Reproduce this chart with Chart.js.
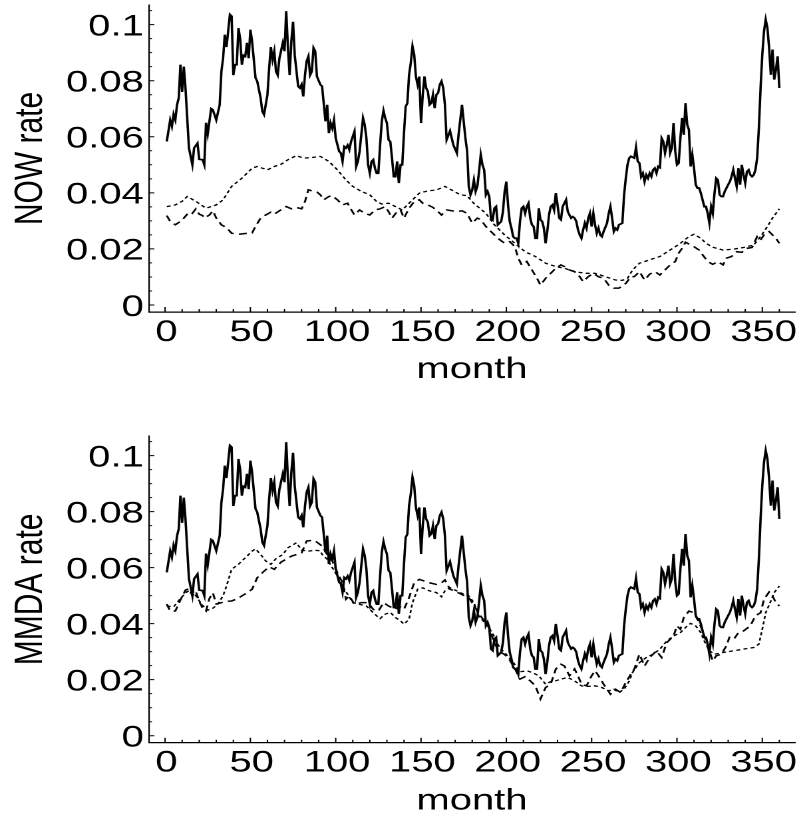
<!DOCTYPE html>
<html>
<head>
<meta charset="utf-8">
<title>NOW and MMDA rates</title>
<script src="https://cdn.jsdelivr.net/npm/chart.js@4.4.1/dist/chart.umd.min.js"></script>
<style>
  html, body { margin: 0; padding: 0; background: #fff; overflow: hidden; }
  /* the original figure is stretched sideways, so each panel is drawn narrow and scaled */
  .panel { width: 602px; transform: scaleX(1.3306); transform-origin: 0 0; }
</style>
</head>
<body>
<div class="panel" style="height:400px"><canvas id="nowChart"></canvas></div>
<div class="panel" style="height:419px"><canvas id="mmdaChart"></canvas></div>

<script>
// Axis ticks
const xTickValues = [0, 50, 100, 150, 200, 250, 300, 350];
const yTickValues = [0, 0.02, 0.04, 0.06, 0.08, 0.1];
const yTickLabels = ["0", "0.02", "0.04", "0.06", "0.08", "0.1"];

// Market rate (solid line, same in both panels)
const marketMonths = [1,3,4,5,6,7,8,9,10,11,12,14,16,17,19,20,22,23,24,25,27,28,30,32,33,34,35,36,38,39,40,41,42,43,44,45,46,47,48,49,50,51,53,54,56,57,58,60,61,62,63,64,65,66,67,69,70,71,72,73,74,75,76,78,79,80,81,82,83,84,85,86,87,88,89,91,92,94,95,96,97,98,99,100,102,103,104,105,106,107,108,109,111,112,113,114,116,117,118,119,120,121,122,123,124,125,126,127,128,129,130,131,132,133,134,135,136,137,138,139,140,141,142,143,144,145,146,147,148,149,150,151,152,153,154,155,156,157,158,159,160,161,162,163,164,165,167,168,169,171,172,174,175,176,177,178,179,180,181,182,183,184,185,186,187,188,189,190,191,192,193,194,195,196,197,198,199,200,201,202,203,204,205,206,207,208,209,210,211,212,213,214,215,216,217,218,219,220,221,222,223,224,225,226,227,228,229,230,231,232,233,234,235,236,237,238,239,240,241,242,243,244,245,246,247,248,249,250,251,252,253,254,255,256,257,259,260,261,262,263,264,265,266,268,269,270,271,272,273,275,276,277,278,279,280,281,282,283,284,285,286,287,288,289,290,291,292,293,294,295,296,297,298,299,300,301,302,303,304,305,306,307,308,309,310,311,312,313,314,315,316,317,318,319,320,321,322,323,324,325,326,327,328,329,330,331,332,333,334,335,336,337,338,339,340,341,342,343,344,345,346,347,348,349,350,351,352,353,354,355,356,357,358,359,360];
const marketRate = [0.0583,0.066,0.0637,0.068,0.066,0.0714,0.0738,0.0857,0.076,0.085,0.077,0.056,0.05,0.056,0.0577,0.052,0.0518,0.05,0.065,0.061,0.07,0.0696,0.066,0.0714,0.0833,0.088,0.0964,0.092,0.1036,0.103,0.082,0.0857,0.0857,0.0988,0.095,0.0857,0.089,0.0887,0.0935,0.088,0.0982,0.094,0.081,0.0798,0.0738,0.069,0.0679,0.075,0.0845,0.092,0.0875,0.0905,0.0833,0.082,0.088,0.0935,0.0905,0.1048,0.0917,0.082,0.094,0.101,0.089,0.078,0.0774,0.0786,0.0744,0.082,0.087,0.0887,0.082,0.0833,0.0917,0.0905,0.0815,0.0786,0.078,0.0655,0.0714,0.0613,0.0649,0.063,0.066,0.0595,0.0548,0.0542,0.0512,0.0565,0.056,0.057,0.0554,0.0583,0.0619,0.0494,0.0512,0.0548,0.0667,0.0643,0.0595,0.05,0.047,0.0512,0.0518,0.0488,0.047,0.047,0.057,0.0655,0.0693,0.0667,0.0649,0.0589,0.0583,0.0524,0.0458,0.0458,0.0512,0.0435,0.05,0.05,0.0613,0.0708,0.072,0.0821,0.0863,0.0923,0.0893,0.0815,0.0786,0.0815,0.0649,0.075,0.0815,0.0774,0.0762,0.0714,0.072,0.075,0.0702,0.075,0.0756,0.0786,0.0798,0.0774,0.0714,0.0589,0.0621,0.0595,0.057,0.0542,0.0607,0.0714,0.0655,0.0595,0.055,0.0423,0.0393,0.041,0.0446,0.0405,0.0423,0.0476,0.0536,0.05,0.0482,0.0393,0.0405,0.0387,0.031,0.0304,0.0345,0.0351,0.0286,0.0292,0.0298,0.0333,0.0405,0.044,0.0357,0.0298,0.0274,0.0244,0.0238,0.0238,0.022,0.0298,0.0345,0.0351,0.0327,0.0351,0.0363,0.031,0.0286,0.028,0.0238,0.0238,0.0345,0.0304,0.0298,0.0274,0.022,0.0262,0.0321,0.0351,0.0357,0.0339,0.0399,0.0357,0.031,0.0304,0.0351,0.0363,0.0375,0.0333,0.0321,0.031,0.0315,0.031,0.0298,0.0268,0.025,0.0238,0.0268,0.0292,0.0274,0.031,0.0327,0.028,0.0327,0.0286,0.0256,0.0274,0.025,0.0244,0.0262,0.0292,0.0327,0.0351,0.031,0.0262,0.0274,0.0268,0.0286,0.0292,0.0393,0.0452,0.05,0.0524,0.053,0.0524,0.0562,0.0512,0.0506,0.0458,0.047,0.044,0.0464,0.0452,0.047,0.0458,0.0482,0.0488,0.047,0.0494,0.049,0.0595,0.0583,0.0542,0.057,0.0607,0.0542,0.056,0.0649,0.0548,0.05,0.0506,0.0595,0.0667,0.0607,0.072,0.0643,0.0625,0.0494,0.0536,0.0488,0.0429,0.0417,0.0417,0.0399,0.0375,0.0351,0.0351,0.0327,0.0292,0.0351,0.0327,0.0399,0.0452,0.0446,0.0393,0.0387,0.0387,0.0405,0.0417,0.0429,0.044,0.0458,0.0482,0.0452,0.0423,0.0488,0.0429,0.05,0.0464,0.0435,0.0476,0.0482,0.0464,0.0458,0.0464,0.0482,0.0524,0.0631,0.0774,0.0893,0.0976,0.1018,0.0988,0.0917,0.0821,0.0911,0.0804,0.0839,0.0887,0.0774,0.0815];

// NOW panel: short-dash series
const nowShortMonths = [1,6,10,13,18,24,30,34,39,45,51,54,57,60,64,68,72,77,81,86,91,96,101,106,110,115,120,124,127,131,135,139,142,146,149,154,159,164,168,173,177,181,188,193,199,205,211,217,223,229,234,240,246,252,258,264,268,271,274,278,284,290,296,302,307,310,314,317,321,327,333,339,345,349,353,356,360];
const nowShort = [0.0351,0.0357,0.037,0.0387,0.037,0.0345,0.0357,0.0375,0.0423,0.0452,0.0488,0.0494,0.0488,0.0482,0.0494,0.0502,0.0518,0.0533,0.0524,0.0526,0.053,0.0512,0.0482,0.0446,0.0423,0.0405,0.0393,0.0369,0.036,0.0363,0.0351,0.0339,0.0357,0.0381,0.0399,0.0407,0.041,0.0423,0.041,0.0393,0.039,0.0362,0.0327,0.0286,0.025,0.022,0.019,0.0173,0.0149,0.0137,0.0131,0.0119,0.0113,0.0113,0.0101,0.0089,0.0088,0.0095,0.0125,0.0149,0.0161,0.0173,0.0196,0.022,0.0244,0.0252,0.0238,0.022,0.0206,0.0196,0.0199,0.0205,0.0214,0.0244,0.028,0.031,0.0343];

// NOW panel: long-dash series
const nowLongMonths = [1,3,6,9,11,14,16,18,20,22,23,26,28,30,33,36,39,43,47,51,53,56,59,62,64,67,71,74,77,80,82,84,87,89,91,93,96,98,101,104,107,108,111,114,117,120,123,126,129,131,133,136,138,140,143,146,149,151,154,157,160,162,165,168,171,174,177,180,183,185,188,191,195,199,202,205,207,209,212,215,218,220,223,226,229,232,234,237,240,243,245,248,251,254,257,260,263,266,270,273,275,278,281,284,287,290,293,296,299,301,303,305,307,310,313,315,318,321,324,327,329,332,335,338,341,344,347,349,351,354,356,358,360];
const nowLong = [0.0319,0.0298,0.0286,0.0298,0.031,0.0331,0.0327,0.0343,0.0324,0.0319,0.031,0.0321,0.0336,0.031,0.0286,0.0276,0.0256,0.0252,0.0255,0.0257,0.028,0.031,0.0321,0.0331,0.0324,0.0336,0.0351,0.0343,0.0348,0.0343,0.0369,0.0411,0.0405,0.0403,0.0393,0.0375,0.0387,0.039,0.0375,0.0357,0.0363,0.0351,0.0321,0.0339,0.0327,0.0321,0.0339,0.0343,0.0351,0.0333,0.031,0.0333,0.0339,0.031,0.0345,0.0369,0.0375,0.0363,0.0357,0.0348,0.0333,0.0321,0.0339,0.0336,0.0333,0.0336,0.0327,0.0292,0.031,0.0304,0.028,0.0262,0.0238,0.022,0.0226,0.0208,0.0167,0.0143,0.0155,0.0125,0.0095,0.0071,0.0095,0.0113,0.0131,0.0143,0.0137,0.0125,0.0119,0.0101,0.0083,0.0101,0.0113,0.0101,0.0095,0.0071,0.006,0.006,0.0077,0.0101,0.0101,0.0119,0.0089,0.011,0.0119,0.0107,0.0125,0.0143,0.0155,0.0185,0.0202,0.0224,0.0217,0.0208,0.0196,0.0179,0.0155,0.0145,0.0155,0.0143,0.0167,0.0173,0.019,0.0188,0.0202,0.0205,0.0244,0.0232,0.025,0.0262,0.025,0.0238,0.022];

// MMDA panel: short-dash series
const mmdaShortMonths = [1,5,9,13,16,19,22,25,28,31,34,36,39,43,47,51,53,56,59,62,65,69,72,77,80,84,88,91,92,95,98,101,104,107,110,114,118,121,124,126,129,132,135,138,140,143,145,148,151,155,159,162,164,167,171,175,178,181,184,188,192,196,200,204,208,212,215,219,223,226,229,232,236,240,244,248,252,256,260,263,266,269,272,274,278,282,286,290,294,298,302,306,308,311,314,316,319,322,327,333,339,345,348,350,352,355,357,360];
const mmdaShort = [0.0463,0.046,0.049,0.0515,0.052,0.049,0.0465,0.0448,0.0455,0.047,0.05,0.0534,0.0594,0.0612,0.0635,0.0659,0.0667,0.0647,0.0624,0.0612,0.0632,0.0647,0.0671,0.0689,0.0663,0.0659,0.0662,0.066,0.0647,0.063,0.06,0.057,0.0534,0.0505,0.0475,0.0469,0.0463,0.0445,0.0428,0.0418,0.0434,0.044,0.0422,0.041,0.0398,0.0416,0.0475,0.0523,0.0528,0.0517,0.0511,0.0496,0.0517,0.0528,0.0517,0.0505,0.0499,0.0475,0.0425,0.04,0.0365,0.0315,0.029,0.0262,0.0228,0.0232,0.0226,0.0214,0.0184,0.0193,0.0196,0.0202,0.0208,0.0196,0.0178,0.0176,0.0178,0.0172,0.016,0.0166,0.0154,0.0166,0.0195,0.0226,0.0261,0.0279,0.0291,0.0309,0.0338,0.0356,0.0368,0.0392,0.0401,0.0392,0.0368,0.0338,0.0303,0.0291,0.0297,0.0303,0.0309,0.0315,0.0327,0.038,0.0439,0.0481,0.0511,0.0534];

// MMDA panel: long-dash series
const mmdaLongMonths = [1,3,6,9,12,14,16,18,20,22,24,26,28,30,33,36,39,42,45,48,51,54,57,61,64,68,71,74,77,80,83,87,89,92,95,98,101,104,106,108,111,115,119,122,125,128,131,135,137,140,143,146,149,152,155,159,162,164,167,171,175,178,181,184,187,190,193,196,199,202,205,208,211,214,217,220,223,226,229,232,234,237,240,242,244,247,250,252,254,257,261,264,267,270,273,275,278,281,284,288,291,294,298,300,302,304,307,310,313,315,318,321,323,326,329,331,334,336,339,343,346,349,351,354,356,358,360];
const mmdaLong = [0.047,0.0445,0.0445,0.0485,0.052,0.0525,0.05,0.0515,0.048,0.0455,0.0445,0.049,0.051,0.047,0.0475,0.048,0.0481,0.0488,0.0499,0.051,0.0523,0.0564,0.0582,0.0603,0.0594,0.062,0.063,0.0641,0.0647,0.0653,0.0695,0.0698,0.0691,0.0677,0.0647,0.0624,0.0582,0.0546,0.0487,0.0499,0.0469,0.0475,0.0475,0.0451,0.0445,0.0475,0.0463,0.0451,0.0463,0.0451,0.0493,0.0546,0.0558,0.0552,0.0546,0.054,0.0546,0.0556,0.0523,0.0513,0.0501,0.0493,0.0465,0.0435,0.041,0.0385,0.033,0.03,0.029,0.027,0.024,0.0202,0.0211,0.0196,0.0178,0.0131,0.0172,0.0184,0.0238,0.0255,0.0249,0.0214,0.0238,0.0214,0.0184,0.0178,0.0214,0.0232,0.0214,0.0184,0.0148,0.0166,0.0154,0.019,0.022,0.0238,0.0291,0.0249,0.0279,0.0303,0.0279,0.0332,0.0356,0.0392,0.038,0.0422,0.0445,0.0439,0.0404,0.0374,0.0321,0.0267,0.0285,0.0291,0.0321,0.0356,0.035,0.0368,0.0374,0.0392,0.0428,0.0439,0.0487,0.0513,0.0499,0.0475,0.0463];

const FONT = "'Liberation Sans', Arial, Helvetica, sans-serif";

function toPoints(months, values) {
  return months.map((m, i) => ({ x: m, y: values[i] }));
}

function lineSet(months, values, dash, width) {
  return {
    data: toPoints(months, values),
    borderColor: "#000",
    borderWidth: width,
    borderDash: dash,
    pointRadius: 0,
    tension: 0,
    fill: false,
  };
}

// Ticks point into the plot, so they are drawn here instead of by the scales
const innerTicks = {
  id: "innerTicks",
  afterDraw(chart) {
    const { ctx, chartArea, scales } = chart;
    ctx.save();
    ctx.strokeStyle = "#000";
    ctx.lineWidth = 1;
    ctx.beginPath();
    for (let m = 0; m <= 360; m += 10) {
      const px = scales.x.getPixelForValue(m);
      const len = m % 50 === 0 ? 5 : 3;
      ctx.moveTo(px, chartArea.bottom);
      ctx.lineTo(px, chartArea.bottom - len);
    }
    for (let k = 0; k <= 21; k++) {
      const py = scales.y.getPixelForValue(k * 0.005);
      const len = k % 4 === 0 ? 4 : 2.2;
      ctx.moveTo(chartArea.left, py);
      ctx.lineTo(chartArea.left + len, py);
    }
    ctx.stroke();
    ctx.restore();
  },
};

// keep the plot box where the figure has it, ignoring label overhang
function fixX(s, height) {
  s.height = height;
  s.paddingLeft = 0;
  s.paddingRight = 0;
}

function fixY(s) {
  s.width = 112;
  s.paddingTop = 0;
  s.paddingBottom = 0;
}

function makeChart(canvasId, yTitle, datasets, box) {
  const ctx = document.getElementById(canvasId).getContext("2d");
  return new Chart(ctx, {
    type: "line",
    data: { datasets },
    plugins: [innerTicks],
    options: {
      responsive: true,
      maintainAspectRatio: false,
      devicePixelRatio: 2,
      animation: false,
      layout: { padding: { left: 0, right: 4.5, top: box.top, bottom: 0 } },
      plugins: { legend: { display: false }, tooltip: { enabled: false } },
      scales: {
        x: {
          type: "linear",
          min: -9.4,
          max: 369.2,
          afterBuildTicks: (s) => { s.ticks = xTickValues.map((v) => ({ value: v })); },
          afterFit: (s) => fixX(s, box.xHeight),
          grid: { display: true, drawOnChartArea: false, drawTicks: false },
          border: { display: true, color: "#000", width: 1.3 },
          ticks: {
            color: "#000",
            font: { family: FONT, size: 30 },
            padding: 2.5,
            labelOffset: 1,
            maxRotation: 0,
            autoSkip: false,
            callback: (v, i) => String(xTickValues[i]),
          },
          title: {
            display: true,
            text: "month",
            color: "#000",
            font: { family: FONT, size: 30 },
            padding: { top: 0, bottom: box.titlePad },
          },
        },
        y: {
          type: "linear",
          min: -0.0025,
          max: 0.107,
          afterBuildTicks: (s) => { s.ticks = yTickValues.map((v) => ({ value: v })); },
          afterFit: fixY,
          grid: { display: true, drawOnChartArea: false, drawTicks: false },
          border: { display: true, color: "#000", width: 1.1 },
          ticks: {
            color: "#000",
            font: { family: FONT, size: 30 },
            padding: 4,
            labelOffset: 2.5,
            autoSkip: false,
            callback: (v, i) => yTickLabels[i],
          },
          title: {
            display: true,
            text: yTitle,
            color: "#000",
            font: { family: FONT, size: 30 },
            padding: { top: 5, bottom: 0 },
          },
        },
      },
    },
  });
}

document.addEventListener("DOMContentLoaded", () => {
  makeChart("nowChart", "NOW rate", [
    lineSet(marketMonths, marketRate, [], 1.8),
    lineSet(nowShortMonths, nowShort, [3, 2.5], 1.3),
    lineSet(nowLongMonths, nowLong, [6, 4], 1.5),
  ], { top: 5, xHeight: 88, titlePad: 12.4 });

  makeChart("mmdaChart", "MMDA rate", [
    lineSet(marketMonths, marketRate, [], 1.8),
    lineSet(mmdaShortMonths, mmdaShort, [3, 2.5], 1.3),
    lineSet(mmdaLongMonths, mmdaLong, [6, 4], 1.5),
  ], { top: 36, xHeight: 76.3, titlePad: 0 });
});
</script>
</body>
</html>
